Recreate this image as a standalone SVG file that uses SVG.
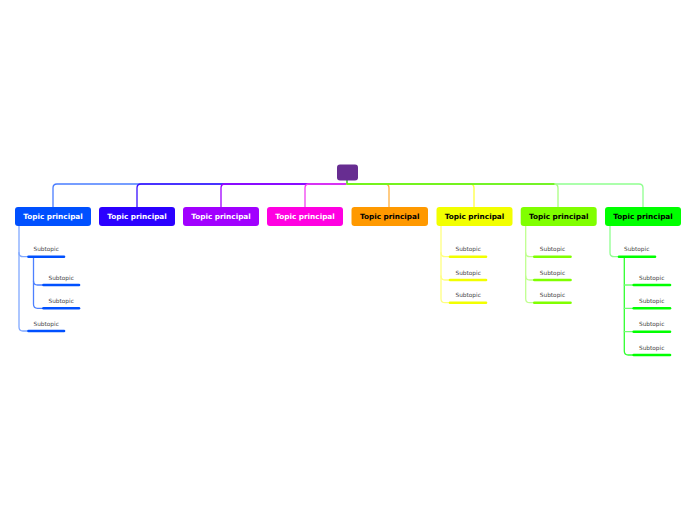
<svg xmlns="http://www.w3.org/2000/svg" width="696" height="520" viewBox="0 0 696 520">
<style>
.topic rect{stroke:none}
.tt{font-family:"DejaVu Sans",Verdana,sans-serif;font-weight:bold;font-size:7.3px;text-anchor:middle}
.st{font-family:"DejaVu Sans",Verdana,sans-serif;font-size:5.8px;fill:#444}
.ul{stroke-width:2.6;stroke-linecap:round;fill:none}
.cn{fill:none;stroke-width:1.3;stroke-linecap:round;stroke-linejoin:round}
</style>
<rect width="696" height="520" fill="#fff"/>
<g id="connectors">
<path class="cn" d="M347,180 V184 H57 Q53,184 53,188 V207" stroke="#4a7dff"/>
<path class="cn" d="M347,184 H141 Q137,184 137,188 V207" stroke="#3a10ff"/>
<path class="cn" d="M347,184 H225 Q221,184 221,188 V207" stroke="#a000ff"/>
<path class="cn" d="M347,184 H309 Q305,184 305,188 V207" stroke="#f040f0"/>
<path class="cn" d="M347,184 H385 Q389,184 389,188 V207" stroke="#ffb040"/>
<path class="cn" d="M347,184 H470 Q474,184 474,188 V207" stroke="#ffff40"/>
<path class="cn" d="M555,184 H639 Q643,184 643,188 V207" stroke="#90ff90"/>
<path class="cn" d="M347,184 H554 Q558,184 558,188 V207" stroke="#a8ff80"/>
<path class="cn" d="M347,180 V184 H554" stroke="#5cf000"/>
<!-- topic 1 subtree -->
<path class="cn" d="M19,226 V327 Q19,331 23,331 H28.5" stroke="#80a8ff"/>
<path class="cn" d="M19,252.7 Q19,256.7 23,256.7 H28.5" stroke="#80a8ff"/>
<path class="cn" d="M33.5,257 V304.3 Q33.5,308.3 37.5,308.3 H43.5" stroke="#4d80ff"/>
<path class="cn" d="M33.5,281 Q33.5,285 37.5,285 H43.5" stroke="#4d80ff"/>
<!-- topic 6 subtree -->
<path class="cn" d="M441,226 V298.7 Q441,302.7 445,302.7 H450" stroke="#ffff80"/>
<path class="cn" d="M441,252.7 Q441,256.7 445,256.7 H450" stroke="#ffff80"/>
<path class="cn" d="M441,276 Q441,280 445,280 H450" stroke="#ffff80"/>
<!-- topic 7 subtree -->
<path class="cn" d="M525.7,226 V298.7 Q525.7,302.7 529.7,302.7 H534.3" stroke="#c0ff90"/>
<path class="cn" d="M525.7,252.7 Q525.7,256.7 529.7,256.7 H534.3" stroke="#c0ff90"/>
<path class="cn" d="M525.7,276 Q525.7,280 529.7,280 H534.3" stroke="#c0ff90"/>
<!-- topic 8 subtree -->
<path class="cn" d="M610,226 V252.7 Q610,256.7 614,256.7 H619" stroke="#90ff90"/>
<path class="cn" d="M624.3,257 V351 Q624.3,355 628.3,355 H633.7" stroke="#30ff30"/>
<path class="cn" d="M624.3,285 H633.7 M624.3,308.3 H633.7 M624.3,331.7 H633.7" stroke="#70ff70"/>
</g>
<g id="central"><rect x="337" y="164.5" width="21" height="16" rx="3" fill="#672d91"/></g>
<g id="topic1" class="topic"><rect x="15" y="207" width="76" height="19" rx="3" fill="#0050ff"/><text class="tt" x="53" y="219.2" fill="#fff">Topic principal</text></g>
<g id="topic2" class="topic"><rect x="99" y="207" width="76" height="19" rx="3" fill="#2b00ff"/><text class="tt" x="137" y="219.2" fill="#fff">Topic principal</text></g>
<g id="topic3" class="topic"><rect x="183" y="207" width="76" height="19" rx="3" fill="#a100ff"/><text class="tt" x="221" y="219.2" fill="#fff">Topic principal</text></g>
<g id="topic4" class="topic"><rect x="267" y="207" width="76" height="19" rx="3" fill="#ff00e1"/><text class="tt" x="305" y="219.2" fill="#fff">Topic principal</text></g>
<g id="topic5" class="topic"><rect x="351.5" y="207" width="76.5" height="19" rx="3" fill="#ff9900"/><text class="tt" x="389.7" y="219.2" fill="#000">Topic principal</text></g>
<g id="topic6" class="topic"><rect x="436.5" y="207" width="76" height="19" rx="3" fill="#f2ff00"/><text class="tt" x="474.5" y="219.2" fill="#000">Topic principal</text></g>
<g id="topic7" class="topic"><rect x="520.7" y="207" width="76" height="19" rx="3" fill="#80ff00"/><text class="tt" x="558.7" y="219.2" fill="#000">Topic principal</text></g>
<g id="topic8" class="topic"><rect x="605" y="207" width="76" height="19" rx="3" fill="#00ff00"/><text class="tt" x="643" y="219.2" fill="#000">Topic principal</text></g>
<g id="sub1a"><text class="st" x="33.5" y="251">Subtopic</text><path class="ul" d="M28.5,256.7 H64" stroke="#0050ff"/></g>
<g id="sub1a1"><text class="st" x="48.5" y="279.5">Subtopic</text><path class="ul" d="M43.5,285 H79" stroke="#0050ff"/></g>
<g id="sub1a2"><text class="st" x="48.5" y="302.8">Subtopic</text><path class="ul" d="M43.5,308.3 H79" stroke="#0050ff"/></g>
<g id="sub1b"><text class="st" x="33.5" y="325.5">Subtopic</text><path class="ul" d="M28.5,331 H64" stroke="#0050ff"/></g>
<g id="sub6a"><text class="st" x="455.5" y="251.2">Subtopic</text><path class="ul" d="M450,256.7 H486" stroke="#f2ff00"/></g>
<g id="sub6b"><text class="st" x="455.5" y="274.5">Subtopic</text><path class="ul" d="M450,280 H486" stroke="#f2ff00"/></g>
<g id="sub6c"><text class="st" x="455.5" y="297.2">Subtopic</text><path class="ul" d="M450,302.7 H486" stroke="#f2ff00"/></g>
<g id="sub7a"><text class="st" x="539.8" y="251.2">Subtopic</text><path class="ul" d="M534.3,256.7 H570.5" stroke="#80ff00"/></g>
<g id="sub7b"><text class="st" x="539.8" y="274.5">Subtopic</text><path class="ul" d="M534.3,280 H570.5" stroke="#80ff00"/></g>
<g id="sub7c"><text class="st" x="539.8" y="297.2">Subtopic</text><path class="ul" d="M534.3,302.7 H570.5" stroke="#80ff00"/></g>
<g id="sub8a"><text class="st" x="624" y="251.2">Subtopic</text><path class="ul" d="M619,256.7 H655" stroke="#00ff00"/></g>
<g id="sub8a1"><text class="st" x="639" y="279.5">Subtopic</text><path class="ul" d="M633.7,285 H670" stroke="#00ff00"/></g>
<g id="sub8a2"><text class="st" x="639" y="302.8">Subtopic</text><path class="ul" d="M633.7,308.3 H670" stroke="#00ff00"/></g>
<g id="sub8a3"><text class="st" x="639" y="326.2">Subtopic</text><path class="ul" d="M633.7,331.7 H670" stroke="#00ff00"/></g>
<g id="sub8a4"><text class="st" x="639" y="349.5">Subtopic</text><path class="ul" d="M633.7,355 H670" stroke="#00ff00"/></g>
</svg>
